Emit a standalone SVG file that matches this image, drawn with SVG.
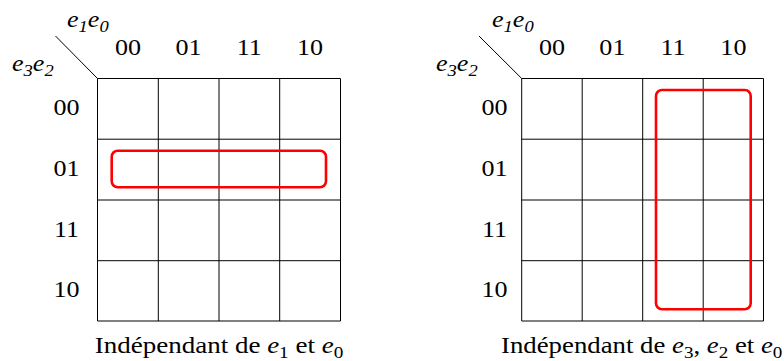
<svg xmlns="http://www.w3.org/2000/svg" width="784" height="361" viewBox="0 0 784 361">
<style>
text{font-family:"Liberation Serif","Times New Roman",serif;font-size:22.5px;fill:#000}
.c{text-anchor:middle}
.i{font-style:italic}
.s{font-size:16px}
.g{stroke:#000;stroke-width:1;fill:none}
.r{stroke:#f00;stroke-width:2.6;fill:none}
</style>
<rect width="784" height="361" fill="#fff"/>
<g id="kmap-left">
<path class="g" d="M97.5 78.5H340.5V321H97.5Z M158.3 78.5V321 M219 78.5V321 M279.7 78.5V321 M97.5 139.2H340.5 M97.5 200H340.5 M97.5 260.7H340.5 M55.5 36L97.5 78.5"/>
<text class="i" transform="translate(67,27) scale(1.16,1)">e<tspan class="s" dy="5">1</tspan><tspan dy="-5">e</tspan><tspan class="s" dy="5">0</tspan></text>
<text class="i" transform="translate(12,71) scale(1.16,1)">e<tspan class="s" dy="5">3</tspan><tspan dy="-5">e</tspan><tspan class="s" dy="5">2</tspan></text>
<text class="c" transform="translate(128,55) scale(1.16,1)">00</text>
<text class="c" transform="translate(188.6,55) scale(1.16,1)">01</text>
<text class="c" transform="translate(249.3,55) scale(1.16,1)">11</text>
<text class="c" transform="translate(310,55) scale(1.16,1)">10</text>
<text class="c" transform="translate(66.5,115) scale(1.16,1)">00</text>
<text class="c" transform="translate(66.5,176) scale(1.16,1)">01</text>
<text class="c" transform="translate(66.5,237) scale(1.16,1)">11</text>
<text class="c" transform="translate(66.5,297) scale(1.16,1)">10</text>
<rect class="r" x="111.7" y="150.7" width="214.3" height="36.6" rx="6"/>
<text class="c" transform="translate(219,353) scale(1.2,1)">Indépendant de <tspan class="i">e</tspan><tspan class="s" dy="5">1</tspan><tspan dy="-5"> et </tspan><tspan class="i">e</tspan><tspan class="s" dy="5">0</tspan></text>
</g>
<g id="kmap-right">
<path class="g" d="M521.7 78.5H763.5V321H521.7Z M582.2 78.5V321 M642.7 78.5V321 M703.2 78.5V321 M521.7 139.2H763.5 M521.7 200H763.5 M521.7 260.7H763.5 M479 36L521.7 78.5"/>
<text class="i" transform="translate(492,27) scale(1.16,1)">e<tspan class="s" dy="5">1</tspan><tspan dy="-5">e</tspan><tspan class="s" dy="5">0</tspan></text>
<text class="i" transform="translate(436,71) scale(1.16,1)">e<tspan class="s" dy="5">3</tspan><tspan dy="-5">e</tspan><tspan class="s" dy="5">2</tspan></text>
<text class="c" transform="translate(552,55) scale(1.16,1)">00</text>
<text class="c" transform="translate(612.4,55) scale(1.16,1)">01</text>
<text class="c" transform="translate(673,55) scale(1.16,1)">11</text>
<text class="c" transform="translate(733.4,55) scale(1.16,1)">10</text>
<text class="c" transform="translate(494.5,115) scale(1.16,1)">00</text>
<text class="c" transform="translate(494.5,176) scale(1.16,1)">01</text>
<text class="c" transform="translate(494.5,237) scale(1.16,1)">11</text>
<text class="c" transform="translate(494.5,297) scale(1.16,1)">10</text>
<rect class="r" x="656" y="90" width="94.7" height="219.3" rx="6"/>
<text class="c" transform="translate(641.7,353) scale(1.19,1)">Indépendant de <tspan class="i">e</tspan><tspan class="s" dy="5">3</tspan><tspan dy="-5">, </tspan><tspan class="i">e</tspan><tspan class="s" dy="5">2</tspan><tspan dy="-5"> et </tspan><tspan class="i">e</tspan><tspan class="s" dy="5">0</tspan></text>
</g>
<g id="connectors"></g>
</svg>
